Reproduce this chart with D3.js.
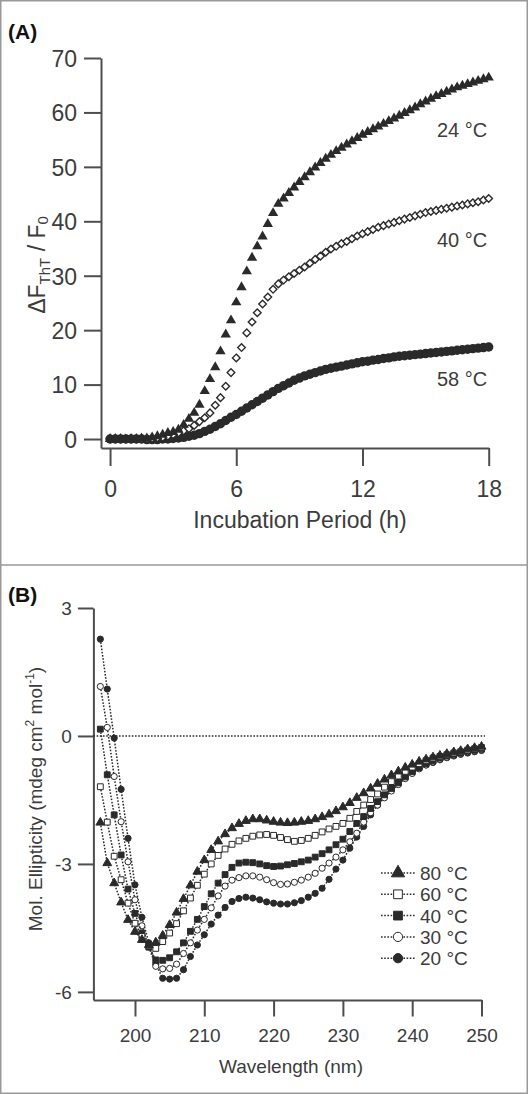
<!DOCTYPE html>
<html><head><meta charset="utf-8">
<script src="https://cdn.jsdelivr.net/npm/d3@7"></script>
<style>
html,body{margin:0;padding:0;background:#fff;}
svg{display:block;font-family:"Liberation Sans",Arial,Helvetica,sans-serif;}
</style></head><body>
<svg id="chart" width="528" height="1094"></svg>
<script>
// ---------- Panel A data ----------
const hours = [0,0.25,0.5,0.75,1,1.25,1.5,1.75,2,2.25,2.5,2.75,3,3.25,3.5,3.75,4,4.25,4.5,4.75,5,5.25,5.5,5.75,6,6.25,6.5,6.75,7,7.25,7.5,7.75,8,8.25,8.5,8.75,9,9.25,9.5,9.75,10,10.25,10.5,10.75,11,11.25,11.5,11.75,12,12.25,12.5,12.75,13,13.25,13.5,13.75,14,14.25,14.5,14.75,15,15.25,15.5,15.75,16,16.25,16.5,16.75,17,17.25,17.5,17.75,18];
const thtLabels = ["24 °C","40 °C","58 °C"];
const tht24 = [0.0,0.0,0.0,-0.1,0.0,0.0,0.1,0.1,0.3,0.5,0.8,1.1,1.3,1.7,2.6,3.7,4.8,6.3,8.8,11.0,13.2,16.1,19.2,21.8,25.1,27.9,30.8,33.3,35.4,37.2,39.5,41.5,43.2,44.2,45.2,46.2,47.2,48.1,49.0,49.9,50.7,51.5,52.2,52.9,53.5,54.1,54.7,55.3,55.9,56.4,56.9,57.4,57.9,58.4,58.9,59.4,59.9,60.4,60.9,61.5,62.0,62.5,63.0,63.4,63.8,64.2,64.6,64.9,65.2,65.5,65.8,66.1,66.4];
const tht40 = [0.0,0.0,0.0,0.0,0.0,0.0,0.0,0.0,0.1,0.2,0.3,0.5,0.8,1.1,1.5,1.9,2.5,3.2,3.9,4.8,6.2,7.6,9.7,12.2,14.9,16.8,19.5,21.5,23.2,24.8,26.1,27.5,28.5,29.2,29.8,30.4,31.0,31.6,32.3,33.0,33.6,34.3,34.9,35.4,35.9,36.3,36.8,37.3,37.7,38.1,38.5,38.9,39.2,39.5,39.8,40.1,40.4,40.7,41.0,41.3,41.6,41.8,42.0,42.2,42.4,42.6,42.8,43.0,43.2,43.4,43.6,43.9,44.2];
const tht58 = [0.0,0.0,0.0,0.0,0.0,0.0,0.0,-0.1,-0.1,-0.1,0.0,0.0,0.1,0.2,0.3,0.5,0.7,1.0,1.4,1.8,2.3,2.8,3.4,4.0,4.5,5.1,5.7,6.3,6.9,7.5,8.1,8.7,9.3,9.8,10.3,10.8,11.2,11.6,11.9,12.2,12.5,12.8,13.0,13.2,13.4,13.6,13.8,14.0,14.2,14.3,14.5,14.6,14.8,14.9,15.1,15.2,15.3,15.4,15.5,15.6,15.7,15.8,15.9,16.0,16.1,16.2,16.3,16.4,16.5,16.6,16.7,16.8,16.9];
const xTicksA = [0,6,12,18];
const yTicksA = [0,10,20,30,40,50,60,70];

// ---------- Panel B data ----------
const wavelengths = [195,196,197,198,199,200,201,202,203,204,205,206,207,208,209,210,211,212,213,214,215,216,217,218,219,220,221,222,223,224,225,226,227,228,229,230,231,232,233,234,235,236,237,238,239,240,241,242,243,244,245,246,247,248,249,250];
const cdLabels = ["80 °C","60 °C","40 °C","30 °C","20 °C"];
const cd80 = [-2.03,-2.98,-3.45,-3.90,-4.31,-4.59,-4.78,-4.90,-4.84,-4.68,-4.43,-4.14,-3.82,-3.50,-3.18,-2.91,-2.67,-2.47,-2.30,-2.16,-2.06,-1.99,-1.95,-1.95,-1.98,-2.01,-2.03,-2.04,-2.03,-2.01,-1.99,-1.95,-1.90,-1.84,-1.76,-1.67,-1.57,-1.45,-1.34,-1.23,-1.12,-1.02,-0.92,-0.83,-0.74,-0.67,-0.60,-0.55,-0.50,-0.46,-0.42,-0.38,-0.35,-0.31,-0.28,-0.25];
const cd60 = [-1.19,-2.02,-2.82,-3.37,-3.92,-4.39,-4.70,-4.92,-4.98,-4.82,-4.62,-4.40,-4.10,-3.80,-3.50,-3.24,-3.00,-2.80,-2.65,-2.54,-2.46,-2.40,-2.35,-2.32,-2.31,-2.33,-2.38,-2.43,-2.47,-2.45,-2.40,-2.33,-2.25,-2.18,-2.12,-2.05,-1.93,-1.77,-1.62,-1.49,-1.36,-1.20,-1.07,-0.94,-0.83,-0.73,-0.65,-0.58,-0.52,-0.48,-0.44,-0.40,-0.37,-0.33,-0.30,-0.27];
const cd40 = [0.16,-0.91,-1.85,-2.79,-3.59,-4.16,-4.62,-4.95,-5.25,-5.26,-5.20,-5.06,-4.85,-4.58,-4.30,-4.00,-3.70,-3.45,-3.25,-3.08,-2.98,-2.96,-2.97,-3.00,-3.04,-3.06,-3.05,-3.02,-2.99,-2.95,-2.91,-2.84,-2.76,-2.67,-2.55,-2.42,-2.24,-2.05,-1.89,-1.70,-1.54,-1.38,-1.23,-1.10,-0.96,-0.84,-0.74,-0.65,-0.58,-0.52,-0.47,-0.43,-0.39,-0.35,-0.32,-0.29];
const cd30 = [1.16,0.20,-0.95,-2.01,-2.95,-3.84,-4.45,-4.95,-5.40,-5.46,-5.45,-5.35,-5.10,-4.85,-4.55,-4.30,-4.03,-3.75,-3.52,-3.38,-3.32,-3.28,-3.28,-3.31,-3.37,-3.44,-3.48,-3.47,-3.43,-3.38,-3.31,-3.22,-3.10,-2.98,-2.84,-2.67,-2.48,-2.28,-2.02,-1.80,-1.62,-1.45,-1.29,-1.14,-1.00,-0.88,-0.77,-0.68,-0.61,-0.55,-0.50,-0.45,-0.41,-0.37,-0.34,-0.31];
const cd20 = [2.27,1.10,-0.05,-1.25,-2.40,-3.49,-4.25,-4.85,-5.35,-5.68,-5.70,-5.68,-5.48,-5.17,-4.90,-4.66,-4.41,-4.20,-4.02,-3.88,-3.81,-3.78,-3.80,-3.84,-3.89,-3.92,-3.94,-3.94,-3.91,-3.86,-3.78,-3.69,-3.57,-3.36,-3.12,-2.91,-2.63,-2.37,-2.12,-1.85,-1.62,-1.41,-1.23,-1.07,-0.95,-0.85,-0.76,-0.68,-0.62,-0.56,-0.51,-0.47,-0.43,-0.40,-0.37,-0.34];
const xTicksB = [200,210,220,230,240,250];
const yTicksB = [-6,-3,0,3];

// ---------- drawing ----------
const svg = d3.select("#chart");
const ink = "#2a2a2a", axisCol = "#4e4e4e", textCol = "#3c3c3c";

svg.append("rect").attr("x",0.75).attr("y",0.75).attr("width",526.5).attr("height",1092.5)
  .attr("fill","none").attr("stroke","#999").attr("stroke-width",1.5);
svg.append("line").attr("x1",0).attr("x2",528).attr("y1",565).attr("y2",565)
  .attr("stroke","#999").attr("stroke-width",1.5);

function styleAxis(g, fs){
  g.selectAll("path,line").attr("stroke",axisCol).attr("stroke-width",2);
  g.selectAll("text").attr("fill",textCol).attr("font-size",fs)
    .attr("font-family","'Liberation Sans',Arial,sans-serif");
}

// Panel A
const xA = d3.scaleLinear().domain([-0.43,18]).range([101,488.7]);
const yA = d3.scaleLinear().domain([-1.65,70]).range([448,58]);
const gA = svg.append("g");

const axXA = gA.append("g").attr("transform","translate(0,448)")
  .call(d3.axisBottom(xA).tickValues(xTicksA).tickSize(18).tickSizeOuter(0).tickFormat(d3.format("d")));
axXA.selectAll("text").attr("y",49).attr("dy",0);
styleAxis(axXA, 23);
const axYA = gA.append("g").attr("transform","translate(101,0)")
  .call(d3.axisLeft(yA).tickValues(yTicksA).tickSize(17).tickSizeOuter(0).tickPadding(7).tickFormat(d3.format("d")));
axYA.selectAll("text").attr("dy","0.36em");
styleAxis(axYA, 23);

gA.append("text").attr("x",300).attr("y",528).attr("text-anchor","middle")
  .attr("font-size",23).attr("fill",textCol).text("Incubation Period (h)");

const ylA = gA.append("text").attr("transform","translate(45,265) rotate(-90)")
  .attr("text-anchor","middle").attr("font-size",23).attr("fill",textCol);
ylA.append("tspan").text("ΔF");
ylA.append("tspan").attr("font-size",15).attr("dy",5).text("ThT");
ylA.append("tspan").attr("dy",-5).text(" / F");
ylA.append("tspan").attr("font-size",15).attr("dy",3).text("0");

gA.append("text").attr("x",8).attr("y",39).attr("font-size",21).attr("font-weight","bold")
  .attr("fill","#111").text("(A)");

const ptsA = (arr)=>hours.map((h,i)=>({x:h,y:arr[i]}));
// 58 °C filled circles
gA.append("g").selectAll("circle").data(ptsA(tht58)).join("circle")
  .attr("cx",d=>xA(d.x)).attr("cy",d=>yA(d.y)).attr("r",4.7).attr("fill",ink);
// 40 °C open diamonds
gA.append("g").selectAll("path").data(ptsA(tht40)).join("path")
  .attr("transform",d=>`translate(${xA(d.x)},${yA(d.y)})`)
  .attr("d","M0,-3.8L3.8,0L0,3.8L-3.8,0Z").attr("fill","#fff").attr("stroke",ink).attr("stroke-width",1.4);
// 24 °C filled triangles
const triA = d3.symbol(d3.symbolTriangle,46)();
gA.append("g").selectAll("path").data(ptsA(tht24)).join("path")
  .attr("transform",d=>`translate(${xA(d.x)},${yA(d.y)})`).attr("d",triA).attr("fill",ink);

const labPosA = [137,247,386];
thtLabels.forEach((t,i)=>{
  gA.append("text").attr("x",437).attr("y",labPosA[i]).attr("font-size",20).attr("fill",textCol).text(t);
});

// Panel B
const xB = d3.scaleLinear().domain([194,250]).range([93.4,481.5]);
const yB = d3.scaleLinear().domain([-6.19,3]).range([1000,608]);
const gB = svg.append("g");

const axXB = gB.append("g").attr("transform","translate(0,1000)")
  .call(d3.axisBottom(xB).tickValues(xTicksB).tickSize(16.5).tickSizeOuter(0).tickFormat(d3.format("d")));
axXB.selectAll("text").attr("y",42).attr("dy",0);
styleAxis(axXB, 19);
const axYB = gB.append("g").attr("transform","translate(93.4,0)")
  .call(d3.axisLeft(yB).tickValues(yTicksB).tickSize(15.5).tickSizeOuter(0).tickPadding(6).tickFormat(d=>String(d)));
axYB.selectAll("text").attr("dy","0.36em");
styleAxis(axYB, 19);

gB.append("text").attr("x",291).attr("y",1073).attr("text-anchor","middle")
  .attr("font-size",19).attr("fill",textCol).text("Wavelength (nm)");
const ylB = gB.append("text").attr("transform","translate(42,799) rotate(-90)")
  .attr("text-anchor","middle").attr("font-size",19).attr("fill",textCol);
ylB.append("tspan").text("Mol. Ellipticity (mdeg cm");
ylB.append("tspan").attr("font-size",12).attr("dy",-8).text("2");
ylB.append("tspan").attr("dy",8).text(" mol");
ylB.append("tspan").attr("font-size",12).attr("dy",-8).text("-1");
ylB.append("tspan").attr("dy",8).text(")");

gB.append("text").attr("x",8).attr("y",602).attr("font-size",21).attr("font-weight","bold")
  .attr("fill","#111").text("(B)");

// zero line
gB.append("line").attr("x1",xB(194)).attr("x2",485).attr("y1",yB(0)).attr("y2",yB(0))
  .attr("stroke",ink).attr("stroke-width",1.5).attr("stroke-dasharray","1.6,1.6");

const seriesB = [cd80,cd60,cd40,cd30,cd20];
const markerB = [
  {type:"tri", fill:ink},
  {type:"sq", fill:"#fff"},
  {type:"sq", fill:ink},
  {type:"circ", fill:"#fff"},
  {type:"circ", fill:ink}
];
function markerPath(type, s){
  if(type==="tri") return d3.symbol(d3.symbolTriangle, 34*s*s)();
  if(type==="sq") return d3.symbol(d3.symbolSquare, 34*s*s)();
  return d3.symbol(d3.symbolCircle, 30*s*s)();
}
const lineB = d3.line().x(d=>xB(d.x)).y(d=>yB(d.y));
const drawOrder = [4,3,2,1,0];
drawOrder.forEach(si=>{
  const pts = wavelengths.map((w,i)=>({x:w,y:seriesB[si][i]}));
  gB.append("path").datum(pts).attr("d",lineB).attr("fill","none")
    .attr("stroke",ink).attr("stroke-width",1.5).attr("stroke-dasharray","1.6,1.6");
  const m = markerB[si];
  gB.append("g").selectAll("path").data(pts).join("path")
    .attr("transform",d=>`translate(${xB(d.x)},${yB(d.y)})`)
    .attr("d",markerPath(m.type,1)).attr("fill",m.fill).attr("stroke",ink).attr("stroke-width",1);
});

// legend
cdLabels.forEach((lab,i)=>{
  const cy = 873 + i*21.3;
  gB.append("line").attr("x1",381).attr("x2",416).attr("y1",cy).attr("y2",cy)
    .attr("stroke",ink).attr("stroke-width",1.5).attr("stroke-dasharray","1.6,1.6");
  const m = markerB[i];
  gB.append("path").attr("transform",`translate(398,${cy})`).attr("d",markerPath(m.type,1.5))
    .attr("fill",m.fill).attr("stroke",ink).attr("stroke-width",1);
  gB.append("text").attr("x",420).attr("y",cy+7).attr("font-size",19).attr("fill",textCol).text(lab);
});
</script>
</body></html>
